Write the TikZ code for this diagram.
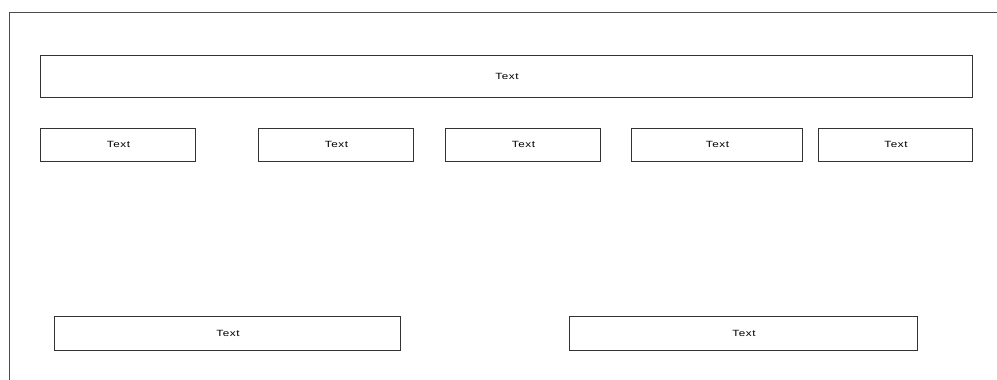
\documentclass[tikz,border=0pt]{standalone}
\usepackage{fontspec}
\setmainfont{Liberation Sans}
\newfontfamily\lblfont[FakeStretch=1.3,LetterSpace=6]{Liberation Sans}
\begin{document}
\begin{tikzpicture}[x=1pt,y=-1pt,
  box/.style={draw=black!80,line width=0.9pt,fill=white},
  lbl/.style={font=\lblfont\fontsize{9}{10}\selectfont,text=black}]
\useasboundingbox (0,0) rectangle (997,380);
\draw[black!70,line width=0.9pt] (9,380) -- (9,12) -- (997,12);
% top box
\draw[box] (40,55) rectangle (972,97);
\node[lbl] (t0) at (507,76.5) {Text};
% row boxes
\draw[box] (40,128) rectangle (195,161);
\node[lbl] (t1) at (118.5,144.5) {Text};
\draw[box] (258,128) rectangle (413,161);
\node[lbl] (t2) at (336.5,144) {Text};
\draw[box] (445,128) rectangle (600,161);
\node[lbl] (t3) at (523.5,144) {Text};
\draw[box] (631,128) rectangle (802,161);
\node[lbl] (t4) at (717.5,144) {Text};
\draw[box] (818,128) rectangle (972,161);
\node[lbl] (t5) at (896,144) {Text};
% bottom boxes
\draw[box] (54,316) rectangle (400,350);
\node[lbl] (b1) at (228,333) {Text};
\draw[box] (569,316) rectangle (917,350);
\node[lbl] (b2) at (744,333) {Text};
\end{tikzpicture}
\end{document}
